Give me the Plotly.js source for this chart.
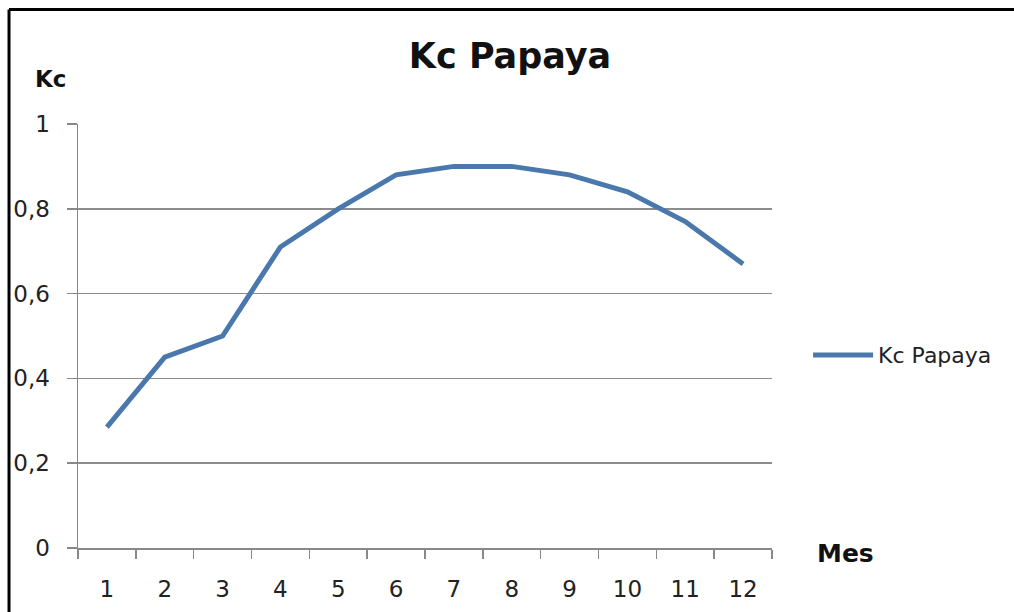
<!DOCTYPE html>
<html>
<head>
<meta charset="utf-8">
<script src="https://cdn.plot.ly/plotly-3.0.1.min.js"></script>
<style>
html,body{margin:0;padding:0;background:#fff;}
#chart{width:1014px;height:612px;}
</style>
</head>
<body>
<div id="chart"></div>
<script>
var months = ['1','2','3','4','5','6','7','8','9','10','11','12'];
var kcPapaya = [0.285, 0.45, 0.5, 0.71, 0.8, 0.88, 0.9, 0.9, 0.88, 0.84, 0.77, 0.67];
var yTicks = [0, 0.2, 0.4, 0.6, 0.8, 1];
var seriesName = 'Kc Papaya';

var trace = {
  x: months,
  y: kcPapaya,
  type: 'scatter',
  mode: 'lines',
  name: seriesName,
  line: {color: '#4a78ad', width: 5}
};

var layout = {
  width: 1014,
  height: 612,
  separators: ',.',
  paper_bgcolor: '#ffffff',
  plot_bgcolor: '#ffffff',
  margin: {l: 78, r: 242, t: 124, b: 64},
  font: {family: 'DejaVu Sans, sans-serif', color: '#222'},
  title: {
    text: '<b>Kc Papaya</b>',
    font: {family: 'DejaVu Sans, sans-serif', size: 35, color: '#111'},
    x: 0.503, xanchor: 'center',
    y: 0.9085, yanchor: 'middle'
  },
  showlegend: true,
  legend: {
    x: 1.052, xanchor: 'left',
    y: 0.455, yanchor: 'middle',
    font: {family: 'DejaVu Sans, sans-serif', size: 22, color: '#222'},
    itemwidth: 60,
    bgcolor: 'rgba(0,0,0,0)'
  },
  xaxis: {
    type: 'category',
    range: [-0.5, 11.5],
    tickson: 'boundaries',
    ticks: 'outside',
    ticklen: 9,
    tickcolor: '#888888',
    tickwidth: 1.5,
    showgrid: false,
    showline: true,
    linecolor: '#888888',
    linewidth: 1.5,
    tickfont: {family: 'DejaVu Sans, sans-serif', size: 23, color: '#222'},
    ticklabelstandoff: 20,
    fixedrange: true
  },
  yaxis: {
    range: [0, 1],
    tickvals: yTicks,
    ticks: 'outside',
    ticklen: 10,
    tickcolor: '#888888',
    tickwidth: 1.5,
    showgrid: true,
    gridcolor: '#8c8c8c',
    gridwidth: 1.5,
    showline: true,
    linecolor: '#888888',
    linewidth: 1.5,
    zeroline: false,
    tickfont: {family: 'DejaVu Sans, sans-serif', size: 23, color: '#222'},
    ticklabelstandoff: 12,
    fixedrange: true
  },
  annotations: [
    {text: '<b>Kc</b>', xref: 'paper', yref: 'paper', x: -0.0396, y: 1.105,
     xanchor: 'center', yanchor: 'middle', showarrow: false,
     font: {family: 'DejaVu Sans, sans-serif', size: 23, color: '#111'}},
    {text: '<b>Mes</b>', xref: 'paper', yref: 'paper', x: 1.062, y: -0.012,
     xanchor: 'left', yanchor: 'middle', showarrow: false,
     font: {family: 'DejaVu Sans, sans-serif', size: 25, color: '#111'}}
  ],
  shapes: [
    {type: 'line', xref: 'paper', yref: 'paper', x0: -0.0994, x1: 1.36, y0: 1.270, y1: 1.270,
     line: {color: '#000', width: 3}},
    {type: 'line', xref: 'paper', yref: 'paper', x0: -0.0994, x1: -0.0994, y0: 1.270, y1: -0.16,
     line: {color: '#000', width: 3}}
  ]
};

Plotly.newPlot('chart', [trace], layout, {displayModeBar: false, staticPlot: true});
</script>
</body>
</html>
